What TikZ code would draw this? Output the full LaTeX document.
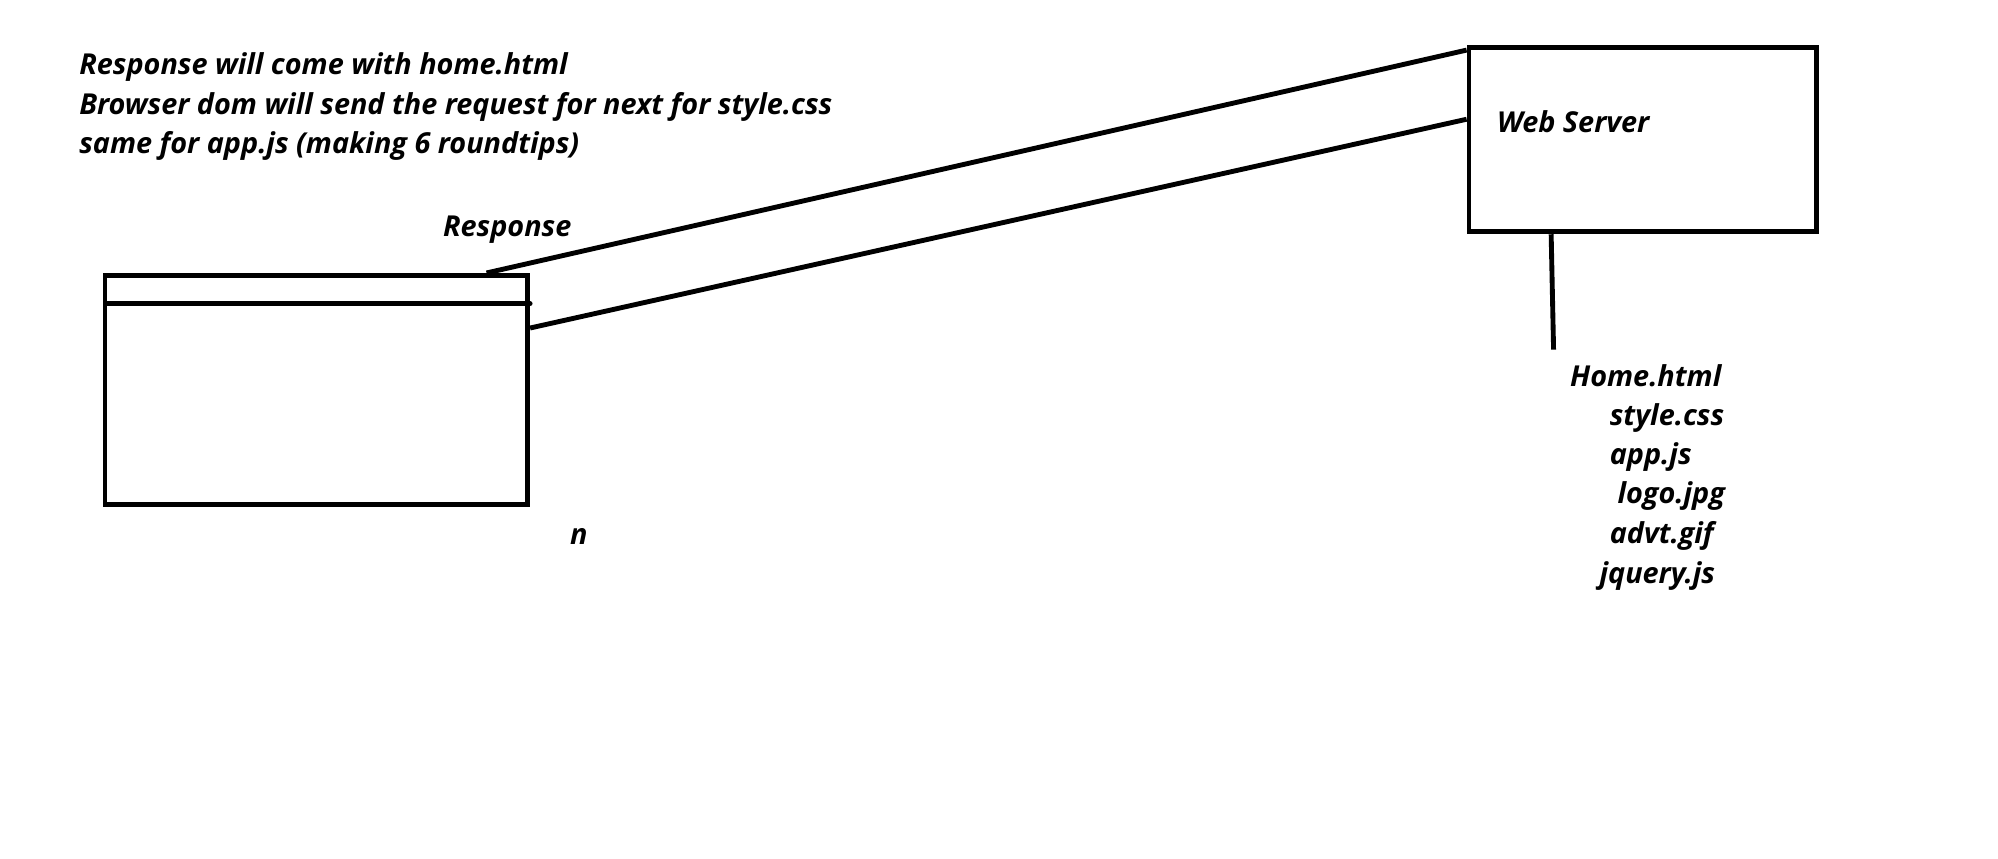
\documentclass[tikz,border=0pt]{standalone}
\usepackage{fontspec}
\setmainfont{Open Sans}
\usetikzlibrary{positioning}

\begin{document}
\begin{tikzpicture}[x=1pt,y=-1pt,line width=3.8pt,
	txt/.style={font=\fontsize{22.5}{27}\selectfont\bfseries\itshape,inner sep=0pt,anchor=west,text height=16pt,text depth=5pt},
	boxnode/.style={draw,line width=3.8pt,inner sep=0pt}]
	\useasboundingbox (0,0) rectangle (1560,670);

	\node[txt] (note1) at (60,53) {Response will come with home.html};
	\node[txt] (note2) at (60,84) {Browser dom will send the request for next for style.css};
	\node[txt] (note3) at (60,114) {same for app.js (making 6 roundtips)};

	\node[boxnode,minimum width=330pt,minimum height=179pt] (browser) at (247,304.5) {};
	\draw[line cap=round] ([xshift=4pt,yshift=-24pt]browser.north west) -- ([yshift=-24pt]browser.north east);

	\node[boxnode,minimum width=271pt,minimum height=144pt] (server) at (1282.5,109) {};
	\node[txt] (srvname) at (1167,98) {Web Server};

	\draw ([xshift=-34pt]browser.north east) -- ([yshift=-4pt]server.north west);
	\draw ([yshift=-43pt]browser.north east) -- ([yshift=-58pt]server.north west);

	\node[txt,anchor=center] (resp) at (396,179) {Response};
	\node[txt,anchor=center] (nlabel) at (452,420) {n};

	\coordinate (files) at (1213,273);
	\draw ([xshift=66pt]server.south west) -- (files);

	\node[txt] (home) at (1224,296) {Home.html};
	\node[txt] (style) at (1255,327) {style.css};
	\node[txt] (app) at (1255,357) {app.js};
	\node[txt] (logo) at (1261,388) {logo.jpg};
	\node[txt] (advt) at (1255,419) {advt.gif};
	\node[txt] (jquery) at (1247,450) {jquery.js};
\end{tikzpicture}
\end{document}
